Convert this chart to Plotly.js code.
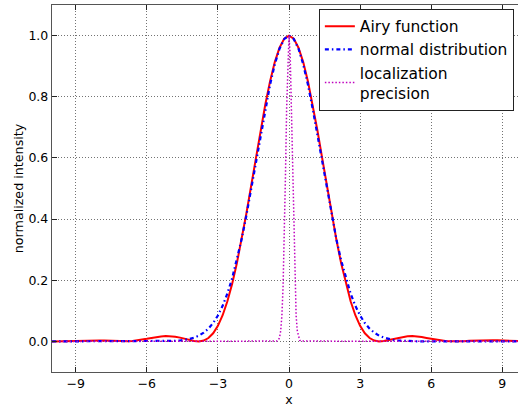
<!DOCTYPE html>
<html>
<head>
<meta charset="utf-8">
<script src="https://cdn.plot.ly/plotly-3.0.1.min.js"></script>
<style>
html,body{margin:0;padding:0;overflow:hidden;background:#fff;}
#chart{width:530px;height:407px;}
</style>
</head>
<body>
<div id="chart"></div>
<script>
const xs = [-10,-9.8,-9.6,-9.4,-9.2,-9,-8.8,-8.6,-8.4,-8.2,-8,-7.8,-7.6,-7.4,-7.2,-7,-6.8,-6.6,-6.4,-6.2,-6,-5.8,-5.6,-5.4,-5.2,-5,-4.8,-4.6,-4.4,-4.2,-4,-3.8,-3.6,-3.4,-3.2,-3,-2.8,-2.6,-2.4,-2.2,-2,-1.8,-1.6,-1.4,-1.2,-1,-0.8,-0.6,-0.4,-0.2,
0,
0.2,0.4,0.6,0.8,1,1.2,1.4,1.6,1.8,2,2.2,2.4,2.6,2.8,3,3.2,3.4,3.6,3.8,4,4.2,4.4,4.6,4.8,5,5.2,5.4,5.6,5.8,6,6.2,6.4,6.6,6.8,7,7.2,7.4,7.6,7.8,8,8.2,8.4,8.6,8.8,9,9.2,9.4,9.6,9.8,10];

const airy = [0.0001,0.0004,0.0008,0.0015,0.0022,0.0030,0.0036,0.0040,0.0042,0.0040,0.0034,0.0027,0.0018,0.0009,0.0002,0.0000,0.0004,0.0014,0.0032,0.0056,0.0085,0.0115,0.0143,0.0164,0.0174,0.0172,0.0155,0.0124,0.0085,0.0044,0.0011,0.0000,0.0028,0.0111,0.0267,0.0511,0.0856,0.1312,0.1879,0.2555,0.3326,0.4175,0.5075,0.5993,0.6897,0.7747,0.8501,0.9133,0.9604,0.9900,
1.0,
0.9900,0.9604,0.9133,0.8501,0.7747,0.6897,0.5993,0.5075,0.4175,0.3326,0.2555,0.1879,0.1312,0.0856,0.0511,0.0267,0.0111,0.0028,0.0000,0.0011,0.0044,0.0085,0.0124,0.0155,0.0172,0.0174,0.0164,0.0143,0.0115,0.0085,0.0056,0.0032,0.0014,0.0004,0.0000,0.0002,0.0009,0.0018,0.0027,0.0034,0.0040,0.0042,0.0040,0.0036,0.0030,0.0022,0.0015,0.0008,0.0004,0.0001];

const normal = [0,0,0,0,0,0,0,0,0,0,0,0,0,0,0,0,0,0,0,0,0,0.0001,0.0002,0.0003,0.0006,0.0010,0.0018,0.0030,0.0049,0.0079,0.0124,0.0190,0.0286,0.0419,0.0602,0.0847,0.1164,0.1565,0.2060,0.2651,0.3337,0.4111,0.4954,0.5841,0.6737,0.7601,0.8390,0.9060,0.9570,0.9891,
1.0,
0.9891,0.9570,0.9060,0.8390,0.7601,0.6737,0.5841,0.4954,0.4111,0.3337,0.2651,0.2060,0.1565,0.1164,0.0847,0.0602,0.0419,0.0286,0.0190,0.0124,0.0079,0.0049,0.0030,0.0018,0.0010,0.0006,0.0003,0.0002,0.0001,0,0,0,0,0,0,0,0,0,0,0,0,0,0,0,0,0,0,0,0,0];

const xsLoc = [-10,-0.5,-0.45,-0.4,-0.35,-0.3,-0.25,-0.2,-0.15,-0.1,-0.05,0,0.05,0.1,0.15,0.2,0.25,0.3,0.35,0.4,0.45,0.5,10];
const loc = [0,0.0011,0.0039,0.0124,0.0347,0.0847,0.1800,0.3337,0.5394,0.7601,0.9337,1.0,0.9337,0.7601,0.5394,0.3337,0.1800,0.0847,0.0347,0.0124,0.0039,0.0011,0];

const seriesNames = ['Airy function', 'normal distribution', 'localization<br>precision'];
const xTicks = [-9,-6,-3,0,3,6,9];
const yTicks = [0,0.2,0.4,0.6,0.8,1.0];

const font = 'DejaVu Sans, sans-serif';

const traces = [
  {x: xs, y: airy, name: seriesNames[0], mode: 'lines', line: {color: '#ff0000', width: 2}},
  {x: xs, y: normal, name: seriesNames[1], mode: 'lines', line: {color: '#0000ff', width: 2.2, dash: '4px,3px,1.5px,3px'}},
  {x: xsLoc, y: loc, name: seriesNames[2], mode: 'lines', line: {color: '#bf00bf', width: 1.5, dash: '1.5px,2px'}}
];

const axisCommon = {
  showline: true, mirror: 'ticks', linecolor: '#555', linewidth: 1.2,
  ticks: 'inside', ticklen: 5, tickcolor: '#222', tickwidth: 1,
  showgrid: true, gridcolor: 'rgba(0,0,0,0.55)', griddash: '1px,2px', gridwidth: 1,
  zeroline: false, tickfont: {family: font, size: 12.5, color: '#000'}
};

const layout = {
  width: 530, height: 407,
  margin: {l: 52, r: 4, t: 5, b: 35},
  paper_bgcolor: '#fff', plot_bgcolor: '#fff',
  showlegend: true,
  xaxis: Object.assign({}, axisCommon, {
    range: [-10, 10], tickvals: xTicks,
    title: {text: 'x', font: {family: font, size: 12.5, color: '#000'}, standoff: 6}
  }),
  yaxis: Object.assign({}, axisCommon, {
    range: [-0.1, 1.1], tickvals: yTicks, tickformat: '.1f',
    title: {text: 'normalized intensity', font: {family: font, size: 12.7, color: '#000'}, standoff: 2}
  }),
  legend: {
    x: 0.563, y: 0.99, xanchor: 'left', yanchor: 'top',
    bgcolor: '#fff', bordercolor: '#222', borderwidth: 1,
    font: {family: font, size: 15.5, color: '#000'},
    itemwidth: 30, tracegroupgap: 0
  }
};

Plotly.newPlot('chart', traces, layout, {staticPlot: true, displayModeBar: false});
</script>
</body>
</html>
